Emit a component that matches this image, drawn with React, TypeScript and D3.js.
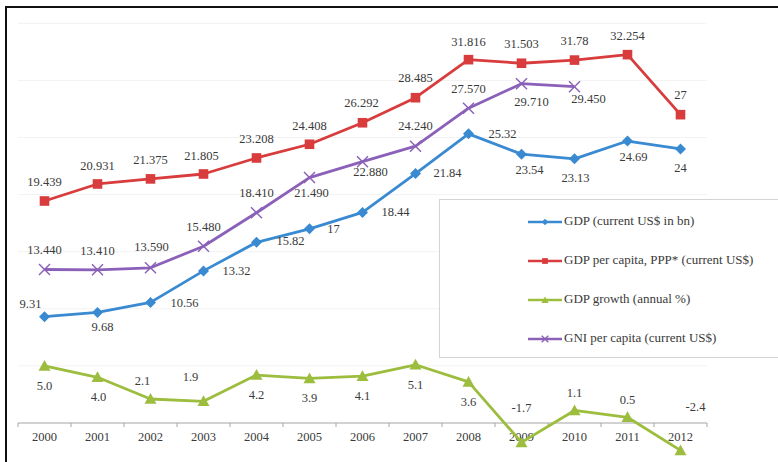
import React from "react";
import * as d3 from "d3";

const years = ["2000","2001","2002","2003","2004","2005","2006","2007","2008","2009","2010","2011","2012"];
const gdp = [9.31, 9.68, 10.56, 13.32, 15.82, 17, 18.44, 21.84, 25.32, 23.54, 23.13, 24.69, 24];
const gdpPerCapitaPPP = [19.439, 20.931, 21.375, 21.805, 23.208, 24.408, 26.292, 28.485, 31.816, 31.503, 31.78, 32.254, 27];
const gdpGrowth = [5.0, 4.0, 2.1, 1.9, 4.2, 3.9, 4.1, 5.1, 3.6, -1.7, 1.1, 0.5, -2.4];
const gniPerCapita = [13.44, 13.41, 13.59, 15.48, 18.41, 21.49, 22.88, 24.24, 27.57, 29.71, 29.45];
const gridValues = [5, 10, 15, 20, 25, 30, 35];

// label offsets (relative to each marker), layout only
const gdpLabelOff = [[-14,-12],[5,16],[34,2],[33,1],[34,0],[24,1],[33,1],[32,1],[34,1],[8,17],[1,20],[6,17],[0,20]];
const pppLabelOff = [[0,-18],[0,-17],[0,-18],[-2,-17],[0,-18],[0,-17],[-1,-19],[0,-19],[0,-17],[0,-18],[0,-18],[0,-18],[0,-19]];
const growthLabelOff = [[0,21],[1,21],[-8,-17],[-13,-23],[0,21],[0,21],[0,21],[0,21],[0,21],[0,-33],[0,-16],[0,-16],[15,-42]];
const gniLabelOff = [[0,-18],[0,-18],[1,-20],[0,-18],[0,-19],[2,17],[8,11],[0,-19],[0,-18],[10,19],[14,13]];

type Series = {
  name: string;
  values: number[];
  color: string;
  marker: "diamond" | "square" | "triangle" | "x";
  fmt: (v: number) => string;
  off: number[][];
};

const series: Series[] = [
  { name: "GDP (current US$ in bn)", values: gdp, color: "#3a8ad2", marker: "diamond", fmt: (v) => String(v), off: gdpLabelOff },
  { name: "GDP per capita, PPP* (current US$)", values: gdpPerCapitaPPP, color: "#d83c3c", marker: "square", fmt: (v) => String(v), off: pppLabelOff },
  { name: "GDP growth (annual %)", values: gdpGrowth, color: "#9cbd3e", marker: "triangle", fmt: (v) => v.toFixed(1), off: growthLabelOff },
  { name: "GNI per capita (current US$)", values: gniPerCapita, color: "#8a60b8", marker: "x", fmt: (v) => v.toFixed(3), off: gniLabelOff },
];

const W = 778, H = 462;
const x = d3.scaleBand<string>().domain(years).range([18, 707]).padding(0);
const y = d3.scaleLinear().domain([0, 35]).range([423, 423 - 35 * 11.42]);
const TEXT = "#3a3a3a";
const FONT = '"Liberation Serif", "DejaVu Serif", "Times New Roman", serif';

function Marker({ type, cx, cy, color, s = 1 }: { type: string; cx: number; cy: number; color: string; s?: number }) {
  if (type === "square") {
    const h = 4.8 * s;
    return <rect x={cx - h} y={cy - h} width={2 * h} height={2 * h} fill={color} />;
  }
  if (type === "diamond") {
    const h = 5.5 * s;
    const p = d3.path();
    p.moveTo(cx, cy - h); p.lineTo(cx + h, cy); p.lineTo(cx, cy + h); p.lineTo(cx - h, cy); p.closePath();
    return <path d={p.toString()} fill={color} />;
  }
  if (type === "triangle") {
    const h = 6 * s;
    const p = d3.path();
    p.moveTo(cx, cy - h); p.lineTo(cx + h, cy + h * 0.8); p.lineTo(cx - h, cy + h * 0.8); p.closePath();
    return <path d={p.toString()} fill={color} />;
  }
  const h = 5.5 * s;
  return (
    <g stroke={color} strokeWidth={1.4}>
      <line x1={cx - h} y1={cy - h} x2={cx + h} y2={cy + h} />
      <line x1={cx - h} y1={cy + h} x2={cx + h} y2={cy - h} />
    </g>
  );
}

export default function App() {
  const cx = (i: number) => (x(years[i]) as number) + x.bandwidth() / 2;
  const line = d3.line<number>().x((_, i) => cx(i)).y((v) => y(v));
  const legendRows = [222, 261, 300, 339];
  return (
    <svg width={W} height={H} style={{ position: "absolute", left: 0, top: 0, background: "#fff", fontFamily: FONT }}>
      <rect x={0} y={0} width={W} height={H} fill="#fff" />
      {/* gridlines */}
      {gridValues.map((g) => (
        <line key={g} x1={18} x2={707} y1={y(g)} y2={y(g)} stroke="#f2f2f2" strokeWidth={1} />
      ))}
      {/* x axis */}
      <line x1={18} x2={707} y1={y(0)} y2={y(0)} stroke="#a6a6a6" strokeWidth={1.2} />
      {years.map((yr) => (
        <line key={"t" + yr} x1={x(yr) as number} x2={x(yr) as number} y1={y(0)} y2={y(0) + 4} stroke="#a6a6a6" />
      ))}
      <line x1={707} x2={707} y1={y(0)} y2={y(0) + 4} stroke="#a6a6a6" />
      {years.map((yr, i) => (
        <text key={"l" + yr} x={cx(i)} y={438} textAnchor="middle" dominantBaseline="middle" fontSize={12.5} fill={TEXT} style={{ fontFamily: FONT }}>
          {yr}
        </text>
      ))}
      {/* legend box */}
      <rect x={439.5} y={199.5} width={W} height={158} fill="#fff" stroke="#d4d4d4" strokeWidth={1} />
      {series.map((s, k) => (
        <g key={"lg" + k}>
          <line x1={528} x2={562} y1={legendRows[k]} y2={legendRows[k]} stroke={s.color} strokeWidth={2.5} />
          <Marker type={s.marker} cx={545} cy={legendRows[k]} color={s.color} s={0.6} />
          <text x={564} y={legendRows[k]} dominantBaseline="middle" fontSize={13} fill={TEXT} style={{ fontFamily: FONT }}>
            {s.name}
          </text>
        </g>
      ))}
      {/* series */}
      {series.map((s, k) => (
        <g key={"s" + k}>
          <path d={line(s.values) as string} fill="none" stroke={s.color} strokeWidth={2.8} strokeLinejoin="round" />
          {s.values.map((v, i) => (
            <Marker key={i} type={s.marker} cx={cx(i)} cy={y(v)} color={s.color} />
          ))}
          {s.values.map((v, i) => (
            <text key={"v" + i} x={cx(i) + s.off[i][0]} y={y(v) + s.off[i][1]} textAnchor="middle" dominantBaseline="middle" fontSize={12.5} fill={TEXT} style={{ fontFamily: FONT }}>
              {s.fmt(v)}
            </text>
          ))}
        </g>
      ))}
      {/* outer border */}
      <rect x={6} y={7} width={W + 20} height={H + 20} fill="none" stroke="#111" strokeWidth={2} />
    </svg>
  );
}
